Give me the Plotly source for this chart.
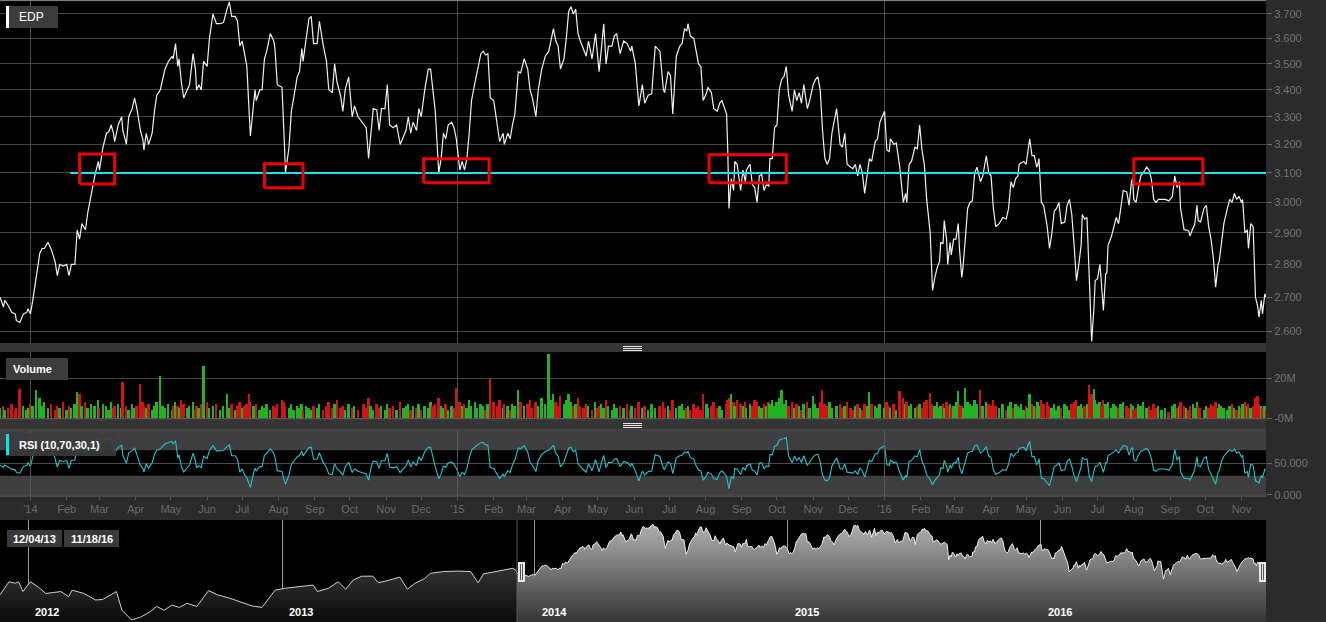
import numpy as np
import pandas as pd
import plotly.graph_objects as go

# ---------------- data ----------------
START = "2013-12-06"          # first day shown in the main panels
END = "2016-11-22"            # right edge of the main panels
NAV_START = "2011-11-21"
NAV_END = "2016-11-21"

# EDP close, days counted from START, volume in millions (segment 1: Dec-13 .. Aug-14)
day_1 = [0, 3, 4, 7, 10, 13, 14, 17, 20, 23, 24, 26, 28, 31, 34, 36, 38, 41, 44, 47,
         49, 51, 54, 57, 59, 61, 64, 66, 68, 70, 73, 75, 78, 81, 84, 85, 88, 91, 93, 95,
         97, 98, 101, 104, 105, 108, 110, 113, 115, 117, 120, 122, 123, 125, 127, 130, 132, 134, 137, 139,
         141, 144, 147, 148, 150, 152, 153, 155, 157, 160, 162, 165, 167, 168, 170, 172, 174, 177, 179, 182,
         185, 188, 191, 194, 196, 198, 201, 203, 205, 207, 209, 211, 213, 214, 217, 218, 219, 222, 224, 226,
         228, 231, 234, 235, 237, 241, 243, 244, 247, 249, 251, 254, 256, 258, 259, 262, 264, 266]
close_1 = [2.70, 2.67, 2.69, 2.675, 2.655, 2.65, 2.63, 2.625, 2.65, 2.655, 2.665, 2.65, 2.69, 2.77, 2.835, 2.85, 2.85, 2.87, 2.845, 2.81,
           2.765, 2.80, 2.795, 2.80, 2.765, 2.80, 2.80, 2.91, 2.88, 2.93, 2.91, 2.965, 3.03, 3.09, 3.14, 3.11, 3.19, 3.24, 3.245, 3.27,
           3.24, 3.21, 3.27, 3.30, 3.25, 3.20, 3.30, 3.33, 3.37, 3.33, 3.25, 3.22, 3.18, 3.24, 3.20, 3.24, 3.32, 3.38, 3.40, 3.44,
           3.48, 3.51, 3.53, 3.52, 3.58, 3.49, 3.52, 3.43, 3.37, 3.40, 3.42, 3.54, 3.48, 3.40, 3.42, 3.40, 3.51, 3.49, 3.60, 3.70,
           3.66, 3.66, 3.665, 3.72, 3.75, 3.69, 3.69, 3.67, 3.57, 3.59, 3.53, 3.49, 3.31, 3.23, 3.36, 3.40, 3.36, 3.40, 3.40, 3.52,
           3.55, 3.62, 3.59, 3.56, 3.42, 3.41, 3.21, 3.10, 3.19, 3.32, 3.37, 3.45, 3.47, 3.56, 3.51, 3.62, 3.68, 3.69]
vol_1 = [5, 6, 4, 5, 7, 4, 5, 14.5, 6, 4, 5, 7, 6, 14, 10, 6, 8, 5, 7, 4,
         6, 5, 8, 4, 6, 5, 7, 13, 12, 6, 8, 5, 7, 6, 9, 5, 7, 6, 4, 8,
         5, 6, 7, 5, 18, 6, 4, 7, 5, 6, 17, 8, 6, 5, 7, 4, 6, 8, 21, 6,
         5, 7, 4, 6, 8, 6, 5, 9, 7, 5, 6, 8, 4, 6, 5, 7, 26, 8, 5, 6,
         7, 4, 6, 12, 5, 7, 4, 6, 8, 5, 6, 7, 12, 8, 6, 5, 7, 4, 6, 5,
         7, 4, 6, 5, 7, 9, 8, 6, 5, 7, 4, 6, 5, 7, 4, 6, 5, 4]

# segment 2: Aug-14 .. May-15
day_2 = [268, 271, 273, 276, 279, 281, 284, 286, 288, 291, 293, 295, 298, 301, 303, 306, 311, 313, 315, 317,
         319, 322, 324, 326, 329, 331, 333, 336, 339, 342, 345, 347, 349, 351, 353, 356, 358, 360, 363, 366,
         368, 370, 372, 375, 377, 379, 381, 383, 386, 388, 390, 393, 395, 397, 399, 401, 403, 406, 408, 411,
         413, 415, 417, 419, 422, 425, 427, 430, 431, 434, 436, 438, 440, 443, 445, 448, 451, 453, 455, 458,
         460, 463, 466, 469, 471, 473, 475, 477, 479, 482, 484, 486, 488, 490, 492, 494, 496, 499, 501, 503,
         506, 509, 511, 512, 514, 516, 518, 520, 523, 525, 527]
close_2 = [3.58, 3.58, 3.67, 3.58, 3.51, 3.40, 3.39, 3.50, 3.43, 3.38, 3.32, 3.40, 3.45, 3.30, 3.34, 3.30, 3.27, 3.26, 3.15, 3.25,
           3.33, 3.325, 3.25, 3.33, 3.33, 3.42, 3.27, 3.26, 3.27, 3.20, 3.23, 3.25, 3.30, 3.24, 3.28, 3.25, 3.33, 3.30, 3.40, 3.48,
           3.48, 3.40, 3.32, 3.10, 3.15, 3.24, 3.22, 3.27, 3.28, 3.26, 3.22, 3.11, 3.14, 3.11, 3.15, 3.24, 3.36, 3.43, 3.48, 3.54,
           3.55, 3.535, 3.54, 3.37, 3.36, 3.27, 3.21, 3.24, 3.20, 3.24, 3.22, 3.27, 3.31, 3.47, 3.465, 3.52, 3.48, 3.40, 3.37, 3.30,
           3.40, 3.48, 3.53, 3.55, 3.59, 3.64, 3.59, 3.57, 3.48, 3.52, 3.60, 3.71, 3.73, 3.70, 3.72, 3.62, 3.59, 3.55, 3.53, 3.59,
           3.52, 3.62, 3.51, 3.47, 3.56, 3.66, 3.50, 3.57, 3.57, 3.61, 3.62]
vol_2 = [6, 5, 7, 4, 6, 8, 5, 7, 9, 5, 6, 4, 7, 5, 6, 4, 7, 5, 10, 6,
         4, 7, 5, 6, 4, 7, 5, 6, 4, 8, 5, 6, 7, 4, 6, 5, 7, 4, 6, 5,
         8, 6, 7, 10, 6, 5, 7, 4, 6, 5, 15, 8, 6, 7, 5, 9, 6, 8, 5, 7,
         6, 4, 7, 20, 8, 6, 9, 5, 7, 6, 4, 7, 6, 14, 8, 6, 7, 9, 5, 8,
         6, 10, 7, 32, 9, 12, 8, 6, 11, 7, 9, 12, 8, 6, 7, 10, 6, 5, 7, 6,
         4, 8, 5, 6, 7, 5, 9, 6, 4, 7, 5]

# segment 3: May-15 .. Jan-16
day_3 = [530, 533, 536, 539, 540, 543, 546, 549, 551, 554, 557, 560, 564, 567, 568, 571, 573, 575, 578, 581,
         583, 585, 587, 588, 590, 593, 595, 597, 599, 601, 604, 605, 608, 610, 613, 615, 617, 621, 622, 623,
         625, 627, 628, 630, 633, 635, 637, 638, 641, 643, 645, 647, 649, 651, 653, 655, 657, 658, 660, 662,
         664, 666, 668, 670, 672, 674, 677, 679, 681, 683, 685, 687, 690, 692, 695, 697, 699, 701, 703, 705,
         707, 709, 711, 715, 718, 720, 722, 724, 727, 729, 731, 733, 735, 737, 739, 741, 743, 745, 748, 750,
         752, 756, 758, 760, 761, 764, 766, 769, 772, 774, 775, 777, 779, 782, 784, 786, 788, 790, 792]
close_3 = [3.54, 3.59, 3.58, 3.55, 3.57, 3.50, 3.34, 3.42, 3.35, 3.38, 3.385, 3.57, 3.55, 3.40, 3.39, 3.47, 3.455, 3.31, 3.53, 3.57,
           3.58, 3.64, 3.63, 3.66, 3.61, 3.60, 3.54, 3.50, 3.49, 3.36, 3.39, 3.41, 3.39, 3.33, 3.32, 3.35, 3.36, 3.31, 3.18, 2.98,
           3.08, 3.04, 3.14, 3.13, 3.04, 3.11, 3.07, 3.11, 3.13, 3.06, 3.05, 3.00, 3.09, 3.095, 3.04, 3.06, 3.055, 3.15, 3.15, 3.26,
           3.27, 3.40, 3.44, 3.45, 3.49, 3.38, 3.32, 3.40, 3.36, 3.39, 3.35, 3.42, 3.33, 3.36, 3.42, 3.44, 3.45, 3.40, 3.25, 3.15,
           3.13, 3.15, 3.24, 3.33, 3.20, 3.19, 3.24, 3.13, 3.12, 3.115, 3.13, 3.09, 3.13, 3.10, 3.03, 3.09, 3.15, 3.14, 3.21, 3.22,
           3.28, 3.32, 3.18, 3.175, 3.22, 3.20, 3.205, 3.12, 3.00, 3.03, 3.00, 3.13, 3.14, 3.19, 3.185, 3.27, 3.18, 3.13, 3.01]
vol_3 = [6, 5, 7, 4, 6, 5, 8, 5, 6, 4, 7, 5, 6, 8, 5, 6, 4, 9, 5, 6,
         7, 4, 5, 6, 4, 7, 5, 6, 4, 12, 7, 5, 6, 8, 5, 6, 4, 7, 9, 10,
         12, 8, 6, 9, 7, 6, 8, 5, 7, 6, 9, 8, 6, 5, 7, 6, 8, 7, 9, 6,
         8, 10, 14, 7, 9, 6, 8, 5, 7, 6, 4, 7, 8, 5, 11, 7, 5, 8, 14, 7,
         6, 8, 5, 6, 7, 5, 6, 8, 5, 4, 6, 7, 5, 4, 7, 6, 13, 7, 6, 5,
         7, 5, 8, 6, 5, 7, 4, 13.5, 10, 7, 8, 6, 7, 5, 6, 7, 5, 8, 9]

# segment 4: Feb-16 .. Nov-16
day_4 = [795, 797, 799, 801, 803, 804, 806, 807, 809, 810, 812, 813, 815, 817, 819, 820, 822, 823, 825, 827,
         829, 831, 833, 835, 838, 840, 843, 845, 847, 849, 851, 854, 857, 860, 862, 864, 866, 868, 870, 871,
         873, 875, 877, 878, 880, 882, 884, 886, 887, 888, 890, 892, 895, 897, 899, 901, 903, 905, 907, 910,
         912, 914, 916, 918, 920, 922, 924, 925, 927, 929, 931, 933, 935, 936, 938, 940, 941, 943, 945, 946,
         947, 950, 952, 954, 956, 958, 960, 963, 965, 967, 968, 969, 971, 973, 975, 977, 980, 982, 984, 986,
         988, 990, 993, 996, 999, 1002, 1004, 1006, 1008, 1009, 1012, 1014, 1016, 1017, 1020, 1021, 1023, 1024, 1026, 1029,
         1031, 1033, 1035, 1037, 1039, 1041, 1042, 1044, 1046, 1049, 1051, 1053, 1055, 1057, 1059, 1061, 1062, 1064, 1066, 1067,
         1069, 1071, 1073, 1075, 1076, 1078, 1079, 1081, 1082]
close_4 = [2.90, 2.72, 2.76, 2.79, 2.81, 2.87, 2.865, 2.94, 2.88, 2.80, 2.87, 2.83, 2.88, 2.88, 2.93, 2.85, 2.76, 2.79, 2.88, 2.98,
           3.00, 3.005, 3.10, 3.12, 3.07, 3.09, 3.16, 3.10, 3.09, 2.98, 2.92, 2.93, 2.95, 2.945, 2.98, 3.07, 3.05, 3.08, 3.09, 3.13,
           3.135, 3.14, 3.13, 3.16, 3.22, 3.16, 3.16, 3.12, 3.13, 3.15, 3.00, 2.99, 2.92, 2.85, 2.90, 2.97, 2.98, 3.00, 2.93, 2.935,
           2.99, 3.01, 2.96, 2.86, 2.75, 2.80, 2.86, 2.96, 2.945, 2.95, 2.72, 2.57, 2.67, 2.75, 2.755, 2.80, 2.76, 2.66, 2.77, 2.775,
           2.86, 2.89, 2.92, 2.95, 2.93, 2.98, 3.04, 3.035, 2.99, 3.07, 3.08, 3.01, 3.00, 3.05, 3.09, 3.10, 3.12, 3.11, 3.08, 3.01,
           3.00, 3.01, 3.01, 3.01, 3.005, 3.02, 3.09, 3.05, 3.07, 2.98, 2.91, 2.91, 2.905, 2.89, 2.92, 2.925, 2.99, 2.94, 2.935, 2.98,
           2.99, 2.92, 2.88, 2.82, 2.73, 2.80, 2.81, 2.88, 2.93, 2.98, 3.01, 3.00, 3.03, 3.01, 3.02, 3.00, 3.01, 2.90, 2.91, 2.85,
           2.93, 2.92, 2.70, 2.67, 2.64, 2.69, 2.65, 2.71, 2.70]
vol_4 = [12.5, 7, 6, 8, 5, 6, 7, 5, 8, 6, 7, 5, 6, 8, 13.5, 7, 6, 5, 15, 8,
         7, 6, 9, 7, 14, 6, 8, 7, 6, 9, 6, 5, 7, 4, 6, 8, 5, 7, 6, 5,
         7, 4, 6, 5, 12, 7, 6, 5, 8, 6, 9, 7, 8, 6, 5, 7, 4, 6, 5, 7,
         6, 4, 7, 8, 9, 6, 7, 5, 6, 7, 16.5, 12, 14.5, 9, 7, 8, 6, 9, 7, 6,
         8, 5, 7, 6, 5, 7, 8, 6, 5, 7, 6, 4, 5, 7, 6, 8, 5, 6, 4, 7,
         5, 6, 4, 5, 3, 6, 7, 5, 6, 8, 6, 5, 4, 6, 7, 5, 8, 6, 5, 4,
         6, 5, 7, 6, 8, 5, 7, 6, 5, 4, 6, 7, 5, 4, 6, 5, 7, 8, 6, 7,
         5, 6, 10, 11, 7, 6, 5, 6, 4]

# navigator history before the selected window (days from 2012-01-01)
nav_day = [-41, -33, -28, -19, -14, -8, 3, 14, 25, 36, 47, 58, 63, 80, 97, 107, 119, 127, 135, 149,
           163, 176, 185, 196, 207, 218, 229, 243, 260, 273, 290, 306, 323, 337, 345, 356, 370, 384, 400, 411,
           417, 433, 447, 458, 469, 481, 497, 505, 522, 536, 547, 558, 572, 580, 599, 621, 638, 649, 657, 676,
           699, 704]
nav_close = [2.23, 2.40, 2.51, 2.48, 2.51, 2.30, 2.51, 2.40, 2.26, 2.28, 2.30, 2.19, 2.33, 2.26, 2.12, 2.13, 2.23, 2.30, 1.90, 1.69,
             1.76, 1.87, 1.98, 1.90, 2.01, 1.96, 2.05, 1.98, 2.32, 2.23, 2.16, 2.08, 1.99, 1.96, 2.12, 2.33, 2.37, 2.39, 2.42, 2.44,
             2.30, 2.37, 2.51, 2.35, 2.55, 2.63, 2.63, 2.49, 2.55, 2.61, 2.35, 2.48, 2.58, 2.69, 2.73, 2.74, 2.73, 2.49, 2.68, 2.74,
             2.80, 2.75]

price_ticks = [2.6, 2.7, 2.8, 2.9, 3.0, 3.1, 3.2, 3.3, 3.4, 3.5, 3.6, 3.7]
volume_ticks = [0, 20e6]
volume_tick_text = ["-0M", "20M"]
rsi_ticks = [0, 50]
rsi_tick_text = ["0.000", "50.000"]
month_names = ["Jan", "Feb", "Mar", "Apr", "May", "Jun", "Jul", "Aug", "Sep", "Oct", "Nov", "Dec"]
year_starts = ["2014-01-01", "2015-01-01", "2016-01-01"]
nav_years = ["2012", "2013", "2014", "2015", "2016"]

support_level = 3.1
support_start = "2014-02-04"
box_start = ["2014-02-12", "2014-07-20", "2014-12-03", "2015-08-04", "2016-08-01"]
box_end = ["2014-03-14", "2014-08-22", "2015-01-28", "2015-10-09", "2016-09-29"]
box_low = [3.062, 3.049, 3.066, 3.066, 3.062]
box_high = [3.166, 3.132, 3.149, 3.163, 3.149]

rsi_period = 6  # ~10 trading days at the sampling of the read points
rsi_upper, rsi_lower = 70, 30
sel_from_label, sel_to_label = "12/04/13", "11/18/16"

# ---------------- assemble ----------------
def seg(d, c, v):
    n = min(len(d), len(c), len(v))
    return list(d[:n]), list(c[:n]), list(v[:n])

days, close, vol = [], [], []
for d, c, v in [(day_1, close_1, vol_1), (day_2, close_2, vol_2), (day_3, close_3, vol_3), (day_4, close_4, vol_4)]:
    a, b, e = seg(d, c, v)
    days += a; close += b; vol += e

dates = pd.Timestamp(START) + pd.to_timedelta(days, unit="D")
close = np.array(close, dtype=float)
vol = np.array(vol, dtype=float) * 1e6

chg = np.diff(close, prepend=close[0])
vol_colors = ["#22b322" if c >= 0 else "#d21414" for c in chg]

# RSI on the navigator history (warm-up) followed by the main window
hist = pd.Series(list(nav_close[-8:]) + list(close))
dd = hist.diff()
up = dd.clip(lower=0)
dn = (-dd).clip(lower=0)
au = up.ewm(alpha=1 / rsi_period, adjust=True).mean()
ad = dn.ewm(alpha=1 / rsi_period, adjust=True).mean()
rsi = (100 * au / (au + ad)).bfill().values[8:]

nav_dates = pd.Timestamp("2012-01-01") + pd.to_timedelta(nav_day, unit="D")

# ---------------- geometry helpers (pixel -> paper) ----------------
W, H = 1326, 622
PR = 1266  # right edge of plotting area in px


def fx(p):
    return p / W


def fy(p):
    return 1 - p / H


FONT = "Arial, Liberation Sans, sans-serif"
TICK_COL = "#737373"

fig = go.Figure()

# price
fig.add_trace(go.Scatter(x=dates, y=close, mode="lines", line=dict(color="#f0f0f0", width=1.2),
                         xaxis="x", yaxis="y", hoverinfo="skip"))
fig.add_trace(go.Scatter(x=[support_start, dates[-1]], y=[support_level, support_level], mode="lines",
                         line=dict(color="#14e6f0", width=2), xaxis="x", yaxis="y", hoverinfo="skip"))
for x0, x1, y0, y1 in zip(box_start, box_end, box_low, box_high):
    fig.add_trace(go.Scatter(x=[x0, x1, x1, x0, x0], y=[y0, y0, y1, y1, y0], mode="lines",
                             line=dict(color="#f00000", width=3), xaxis="x", yaxis="y", hoverinfo="skip"))

# volume
fig.add_trace(go.Bar(x=dates, y=vol, marker=dict(color=vol_colors, line=dict(width=0)),
                     width=1.6 * 86400000, xaxis="x2", yaxis="y2", hoverinfo="skip"))

# RSI
fig.add_trace(go.Scatter(x=dates, y=rsi, mode="lines", line=dict(color="#1fc4cf", width=1.1),
                         xaxis="x3", yaxis="y3", hoverinfo="skip"))

# navigator
NAV_LO, NAV_HI = 1.647, 3.836
fig.add_trace(go.Scatter(x=list(nav_dates) + [dates[0]], y=list(nav_close) + [close[0]], mode="lines",
                         line=dict(color="#d0d0d0", width=1), fill="tozeroy",
                         fillgradient=dict(type="vertical", start=NAV_LO, stop=NAV_HI,
                                           colorscale=[[0, "#0a0a0a"], [0.35, "#262626"], [1, "#4a4a4a"]]),
                         xaxis="x4", yaxis="y4", hoverinfo="skip"))
fig.add_trace(go.Scatter(x=dates, y=close, mode="lines", line=dict(color="#ececec", width=1), fill="tozeroy",
                         fillgradient=dict(type="vertical", start=NAV_LO, stop=NAV_HI,
                                           colorscale=[[0, "#363636"], [1, "#b4b4b4"]]),
                         xaxis="x4", yaxis="y4", hoverinfo="skip"))

XD = [0, PR / W]
month_ticks = pd.date_range("2014-01-01", "2016-11-01", freq="MS")
month_text = ["'" + t.strftime("%y") if t.month == 1 else month_names[t.month - 1] for t in month_ticks]

common_x = dict(type="date", range=[START, END], domain=XD, zeroline=False, showline=False, fixedrange=True,
                automargin=False)
ytick = dict(side="right", ticks="outside", ticklen=5, tickcolor="#6a6a6a", tickwidth=1,
             tickfont=dict(color=TICK_COL, size=11, family=FONT), zeroline=False, showline=False, fixedrange=True,
             automargin=False)

fig.update_layout(
    width=W, height=H, autosize=False, margin=dict(l=0, r=0, t=0, b=0, pad=0, autoexpand=False),
    paper_bgcolor="#2b2b2b", plot_bgcolor="#000000", showlegend=False, bargap=0,
    font=dict(family=FONT, size=11, color=TICK_COL),
    xaxis=dict(**common_x, anchor="y", tickvals=year_starts, showticklabels=False, ticks="",
               showgrid=True, gridcolor="#4c4c4c", gridwidth=1),
    xaxis2=dict(**common_x, anchor="y2", tickvals=year_starts, showticklabels=False, ticks="",
                showgrid=True, gridcolor="#4c4c4c", gridwidth=1),
    xaxis3=dict(**common_x, anchor="y3", tickvals=month_ticks, ticktext=month_text, ticks="outside",
                ticklen=3, tickcolor="#555555", showgrid=False,
                tickfont=dict(color="#6a6a6a", size=11, family=FONT)),
    xaxis4=dict(type="date", range=[NAV_START, NAV_END], domain=XD, anchor="y4",
                tickvals=[y + "-01-01" for y in nav_years], showticklabels=False, ticks="",
                showgrid=True, gridcolor="#9a9a9a", gridwidth=1, zeroline=False, fixedrange=True,
                automargin=False),
    yaxis=dict(**ytick, type="log", domain=[fy(343), fy(0)], anchor="x",
               range=[np.log10(2.5655), np.log10(3.7579)], tickvals=price_ticks,
               ticktext=[f"{v:.3f}" for v in price_ticks], showgrid=True, gridcolor="#454545"),
    yaxis2=dict(**ytick, domain=[fy(418), fy(352)], anchor="x2", range=[0, 33e6],
                tickvals=volume_ticks, ticktext=volume_tick_text, showgrid=True, gridcolor="#454545"),
    yaxis3=dict(**ytick, domain=[fy(496), fy(430)], anchor="x3", range=[-1.6, 101.6],
                tickvals=rsi_ticks, ticktext=rsi_tick_text, showgrid=True, gridcolor="#4a4a4a"),
    yaxis4=dict(domain=[0, fy(520)], anchor="x4", range=[NAV_LO, NAV_HI], visible=False, fixedrange=True,
                automargin=False),
)

shapes = []


def prect(x0, y0, x1, y1, color, layer="above", opacity=1.0):
    shapes.append(dict(type="rect", xref="paper", yref="paper", x0=fx(x0), x1=fx(x1), y0=fy(y1), y1=fy(y0),
                       fillcolor=color, line=dict(width=0), layer=layer, opacity=opacity))


def pline(x0, y0, x1, y1, color, width=1):
    shapes.append(dict(type="line", xref="paper", yref="paper", x0=fx(x0), x1=fx(x1), y0=fy(y0), y1=fy(y1),
                       line=dict(color=color, width=width)))


# RSI overbought / oversold zones
shapes.append(dict(type="rect", xref="x3 domain", yref="y3", x0=0, x1=1, y0=rsi_upper, y1=101.6,
                   fillcolor="#3f3f3f", line=dict(width=0), layer="below"))
shapes.append(dict(type="rect", xref="x3 domain", yref="y3", x0=0, x1=1, y0=-1.6, y1=rsi_lower,
                   fillcolor="#3f3f3f", line=dict(width=0), layer="below"))
for ys in year_starts:
    shapes.append(dict(type="line", xref="x3", yref="y3 domain", x0=ys, x1=ys, y0=0, y1=1,
                       line=dict(color="#5a5a5a", width=1), layer="above"))

# panel separators and borders
prect(0, 343, PR, 352, "#353535")
prect(0, 419, PR, 429.5, "#353535")
pline(0, 418.6, PR, 418.6, "#606060")
pline(0, 429.6, PR, 429.6, "#4a4a4a")
pline(0, 496.2, PR, 496.2, "#5a5a5a")
pline(0, 0.6, PR, 0.6, "#8a8a8a")
for yy in (346.5, 348.5, 350.5):
    pline(623, yy, 642, yy, "#e6e6e6")
for yy in (423.5, 425.5, 427.5):
    pline(623, yy, 642, yy, "#e6e6e6")

# panel label boxes
prect(6, 6, 58, 28, "#3c3c3c")
prect(6, 6, 9, 28, "#ffffff")
prect(6, 358, 68, 380, "#3c3c3c")
prect(6, 433, 116, 456, "#3c3c3c", opacity=0.9)
prect(6, 434, 9, 455, "#00e8f0")

# navigator decorations
pline(517, 520, 517, 622, "#5a5a5a")
prect(518, 562, 525, 582, "#e8e8e8")
pline(520.5, 564, 520.5, 580, "#555555")
pline(522.5, 564, 522.5, 580, "#555555")
prect(1259, 562, 1266, 582, "#e8e8e8")
pline(1261.5, 564, 1261.5, 580, "#555555")
pline(1263.5, 564, 1263.5, 580, "#555555")
prect(7, 530, 62, 547, "#3a3a3a")
prect(64, 530, 119, 547, "#3a3a3a")

fig.update_layout(shapes=shapes)

ann = []
ann.append(dict(xref="paper", yref="paper", x=fx(17), y=fy(17), text="EDP", showarrow=False, xanchor="left",
                yanchor="middle", font=dict(color="#ffffff", size=12, family=FONT)))
ann.append(dict(xref="paper", yref="paper", x=fx(11), y=fy(369), text="<b>Volume</b>", showarrow=False,
                xanchor="left", yanchor="middle", font=dict(color="#ffffff", size=11, family=FONT)))
ann.append(dict(xref="paper", yref="paper", x=fx(17), y=fy(444.5), text="<b>RSI (10,70,30,1)</b>", showarrow=False,
                xanchor="left", yanchor="middle", font=dict(color="#ffffff", size=11, family=FONT)))
ann.append(dict(xref="paper", yref="paper", x=fx(34.5), y=fy(538.5), text="<b>" + sel_from_label + "</b>",
                showarrow=False, xanchor="center", yanchor="middle", font=dict(color="#ffffff", size=11, family=FONT)))
ann.append(dict(xref="paper", yref="paper", x=fx(91.5), y=fy(538.5), text="<b>" + sel_to_label + "</b>",
                showarrow=False, xanchor="center", yanchor="middle", font=dict(color="#ffffff", size=11, family=FONT)))
for yl in nav_years:
    ann.append(dict(xref="x4", yref="paper", x=pd.Timestamp(yl + "-01-01") + pd.Timedelta(days=7), y=fy(612),
                    text="<b>" + yl + "</b>", showarrow=False, xanchor="left", yanchor="middle",
                    font=dict(color="#ffffff", size=11, family=FONT)))
fig.update_layout(annotations=ann)

fig.write_html("out.html", config={"displayModeBar": False},
               post_script="document.body.style.margin='0';document.body.style.overflow='hidden';")
